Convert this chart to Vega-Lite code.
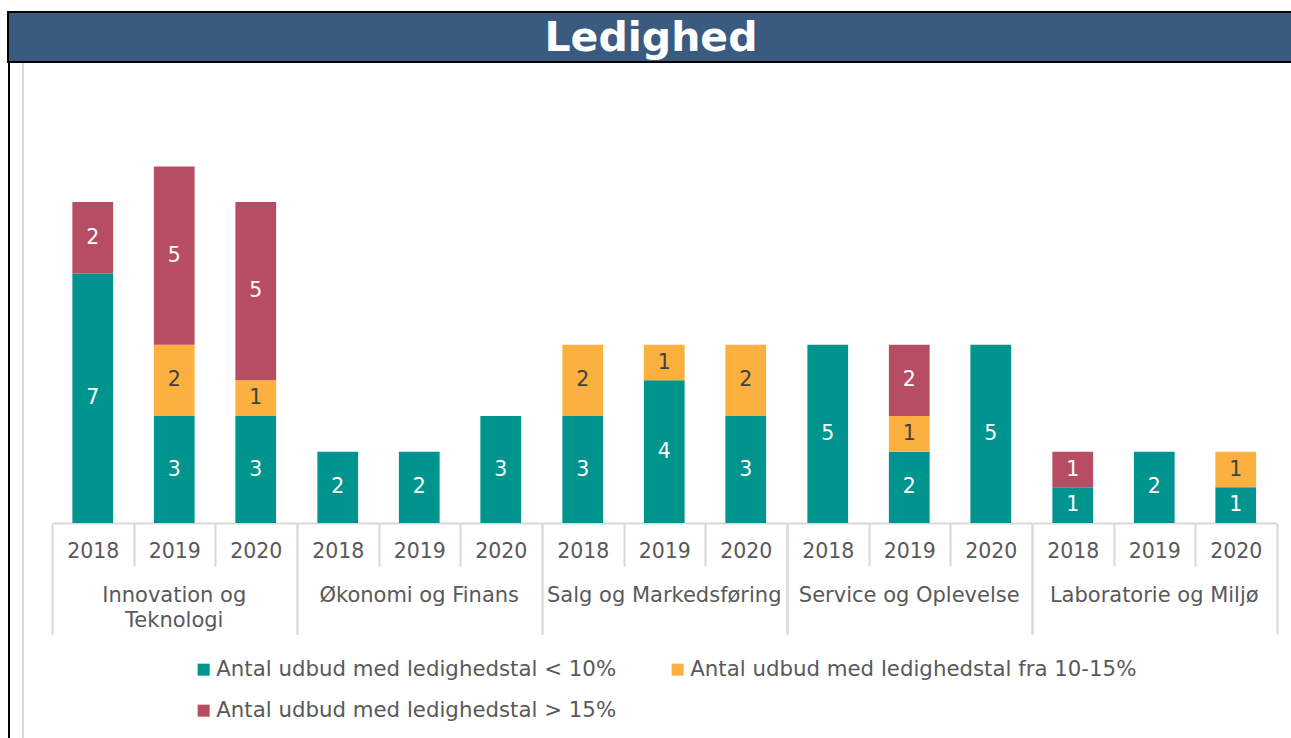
{
  "$schema": "https://vega.github.io/schema/vega-lite/v6.json",
  "padding": {"left": 7, "top": 11, "right": 0, "bottom": 0},
  "background": "white",
  "config": {"font": "DejaVu Sans", "view": {"stroke": null}},
  "datasets": {
    "bars": [
      {"group": "Innovation og Teknologi", "year": "2018", "serie": "Antal udbud med ledighedstal < 10%", "k": 1, "v": 7},
      {"group": "Innovation og Teknologi", "year": "2018", "serie": "Antal udbud med ledighedstal > 15%", "k": 3, "v": 2},
      {"group": "Innovation og Teknologi", "year": "2019", "serie": "Antal udbud med ledighedstal < 10%", "k": 1, "v": 3},
      {"group": "Innovation og Teknologi", "year": "2019", "serie": "Antal udbud med ledighedstal fra 10-15%", "k": 2, "v": 2},
      {"group": "Innovation og Teknologi", "year": "2019", "serie": "Antal udbud med ledighedstal > 15%", "k": 3, "v": 5},
      {"group": "Innovation og Teknologi", "year": "2020", "serie": "Antal udbud med ledighedstal < 10%", "k": 1, "v": 3},
      {"group": "Innovation og Teknologi", "year": "2020", "serie": "Antal udbud med ledighedstal fra 10-15%", "k": 2, "v": 1},
      {"group": "Innovation og Teknologi", "year": "2020", "serie": "Antal udbud med ledighedstal > 15%", "k": 3, "v": 5},
      {"group": "Økonomi og Finans", "year": "2018", "serie": "Antal udbud med ledighedstal < 10%", "k": 1, "v": 2},
      {"group": "Økonomi og Finans", "year": "2019", "serie": "Antal udbud med ledighedstal < 10%", "k": 1, "v": 2},
      {"group": "Økonomi og Finans", "year": "2020", "serie": "Antal udbud med ledighedstal < 10%", "k": 1, "v": 3},
      {"group": "Salg og Markedsføring", "year": "2018", "serie": "Antal udbud med ledighedstal < 10%", "k": 1, "v": 3},
      {"group": "Salg og Markedsføring", "year": "2018", "serie": "Antal udbud med ledighedstal fra 10-15%", "k": 2, "v": 2},
      {"group": "Salg og Markedsføring", "year": "2019", "serie": "Antal udbud med ledighedstal < 10%", "k": 1, "v": 4},
      {"group": "Salg og Markedsføring", "year": "2019", "serie": "Antal udbud med ledighedstal fra 10-15%", "k": 2, "v": 1},
      {"group": "Salg og Markedsføring", "year": "2020", "serie": "Antal udbud med ledighedstal < 10%", "k": 1, "v": 3},
      {"group": "Salg og Markedsføring", "year": "2020", "serie": "Antal udbud med ledighedstal fra 10-15%", "k": 2, "v": 2},
      {"group": "Service og Oplevelse", "year": "2018", "serie": "Antal udbud med ledighedstal < 10%", "k": 1, "v": 5},
      {"group": "Service og Oplevelse", "year": "2019", "serie": "Antal udbud med ledighedstal < 10%", "k": 1, "v": 2},
      {"group": "Service og Oplevelse", "year": "2019", "serie": "Antal udbud med ledighedstal fra 10-15%", "k": 2, "v": 1},
      {"group": "Service og Oplevelse", "year": "2019", "serie": "Antal udbud med ledighedstal > 15%", "k": 3, "v": 2},
      {"group": "Service og Oplevelse", "year": "2020", "serie": "Antal udbud med ledighedstal < 10%", "k": 1, "v": 5},
      {"group": "Laboratorie og Miljø", "year": "2018", "serie": "Antal udbud med ledighedstal < 10%", "k": 1, "v": 1},
      {"group": "Laboratorie og Miljø", "year": "2018", "serie": "Antal udbud med ledighedstal > 15%", "k": 3, "v": 1},
      {"group": "Laboratorie og Miljø", "year": "2019", "serie": "Antal udbud med ledighedstal < 10%", "k": 1, "v": 2},
      {"group": "Laboratorie og Miljø", "year": "2020", "serie": "Antal udbud med ledighedstal < 10%", "k": 1, "v": 1},
      {"group": "Laboratorie og Miljø", "year": "2020", "serie": "Antal udbud med ledighedstal fra 10-15%", "k": 2, "v": 1}
    ]
  },
  "spacing": 0,
  "vconcat": [
    {
      "width": 1286,
      "height": 50,
      "view": {"fill": "#3A5B7F", "stroke": "black", "strokeWidth": 2},
      "data": {"values": [{"t": "Ledighed"}]},
      "mark": {"type": "text", "color": "white", "fontSize": 41, "fontWeight": "bold", "baseline": "middle", "align": "center", "dy": 2},
      "encoding": {"text": {"field": "t"}}
    },
    {
      "spacing": 12,
      "hconcat": [
        {
          "width": 2,
          "height": 680,
          "view": {"fill": "black", "stroke": null},
          "data": {"values": [{"t": ""}]},
          "mark": {"type": "text"},
          "encoding": {"text": {"field": "t"}}
        },
        {
          "width": 2,
          "height": 680,
          "view": {"fill": "#D9D9D9", "stroke": null},
          "data": {"values": [{"t": ""}]},
          "mark": {"type": "text"},
          "encoding": {"text": {"field": "t"}}
        },
        {
          "data": {"name": "bars"},
          "spacing": 0,
          "facet": {
            "column": {
              "field": "group",
              "type": "nominal",
              "sort": ["Innovation og Teknologi", "Økonomi og Finans", "Salg og Markedsføring", "Service og Oplevelse", "Laboratorie og Miljø"],
              "header": {
                "title": null,
                "labelOrient": "bottom",
                "labelFontSize": 21,
                "labelColor": "#595959",
                "labelPadding": -50,
                "labelLineHeight": 25,
                "labelExpr": "datum.value === 'Innovation og Teknologi' ? ['Innovation og', 'Teknologi'] : datum.value"
              }
            }
          },
          "spec": {
            "width": 244.5,
            "height": 460,
            "transform": [
              {"stack": "v", "groupby": ["group", "year"], "sort": [{"field": "k", "order": "ascending"}], "as": ["y0", "y1"]},
              {"calculate": "(datum.y0 + datum.y1) / 2", "as": "mid"}
            ],
            "encoding": {
              "x": {
                "field": "year",
                "type": "ordinal",
                "scale": {"paddingInner": 0, "paddingOuter": 0},
                "axis": {
                  "title": null,
                  "labelAngle": 0,
                  "labelFontSize": 20.5,
                  "labelColor": "#595959",
                  "labelBaseline": "middle",
                  "labelPadding": {"condition": {"test": "datum.value === '2020'", "value": -83}, "value": -15},
                  "domainColor": "#D9D9D9",
                  "domainWidth": 2,
                  "tickColor": "#D9D9D9",
                  "tickWidth": 2,
                  "tickBand": "extent",
                  "tickSize": {"condition": {"test": "datum.value === '2020' || datum.extra", "value": 111}, "value": 43}
                }
              }
            },
            "layer": [
              {
                "mark": {"type": "bar", "width": {"band": 0.5}},
                "encoding": {
                  "y": {
                    "field": "y0",
                    "type": "quantitative",
                    "scale": {"domain": [0, 12.9], "nice": false},
                    "axis": {"title": null, "labels": false, "ticks": false, "domain": false, "grid": false, "minExtent": 16, "maxExtent": 16}
                  },
                  "y2": {"field": "y1"},
                  "color": {
                    "field": "serie",
                    "type": "nominal",
                    "scale": {
                      "domain": ["Antal udbud med ledighedstal < 10%", "Antal udbud med ledighedstal fra 10-15%", "Antal udbud med ledighedstal > 15%"],
                      "range": ["#00948F", "#FBB040", "#B74D63"]
                    },
                    "legend": {
                      "title": null,
                      "orient": "none",
                      "legendX": 185,
                      "legendY": 647,
                      "direction": "horizontal",
                      "columns": 2,
                      "symbolType": "square",
                      "symbolSize": 144,
                      "symbolStrokeWidth": 0,
                      "labelOffset": 2,
                      "labelFontSize": 21.3,
                      "labelColor": "#595959",
                      "labelLimit": 0,
                      "columnPadding": 50,
                      "rowPadding": 19
                    }
                  }
                }
              },
              {
                "mark": {"type": "text", "fontSize": 20.5, "baseline": "middle"},
                "encoding": {
                  "y": {"field": "mid", "type": "quantitative"},
                  "text": {"field": "v", "type": "quantitative"},
                  "color": {"condition": {"test": "datum.k === 2", "value": "#404040"}, "value": "white"}
                }
              }
            ]
          }
        }
      ]
    }
  ]
}
